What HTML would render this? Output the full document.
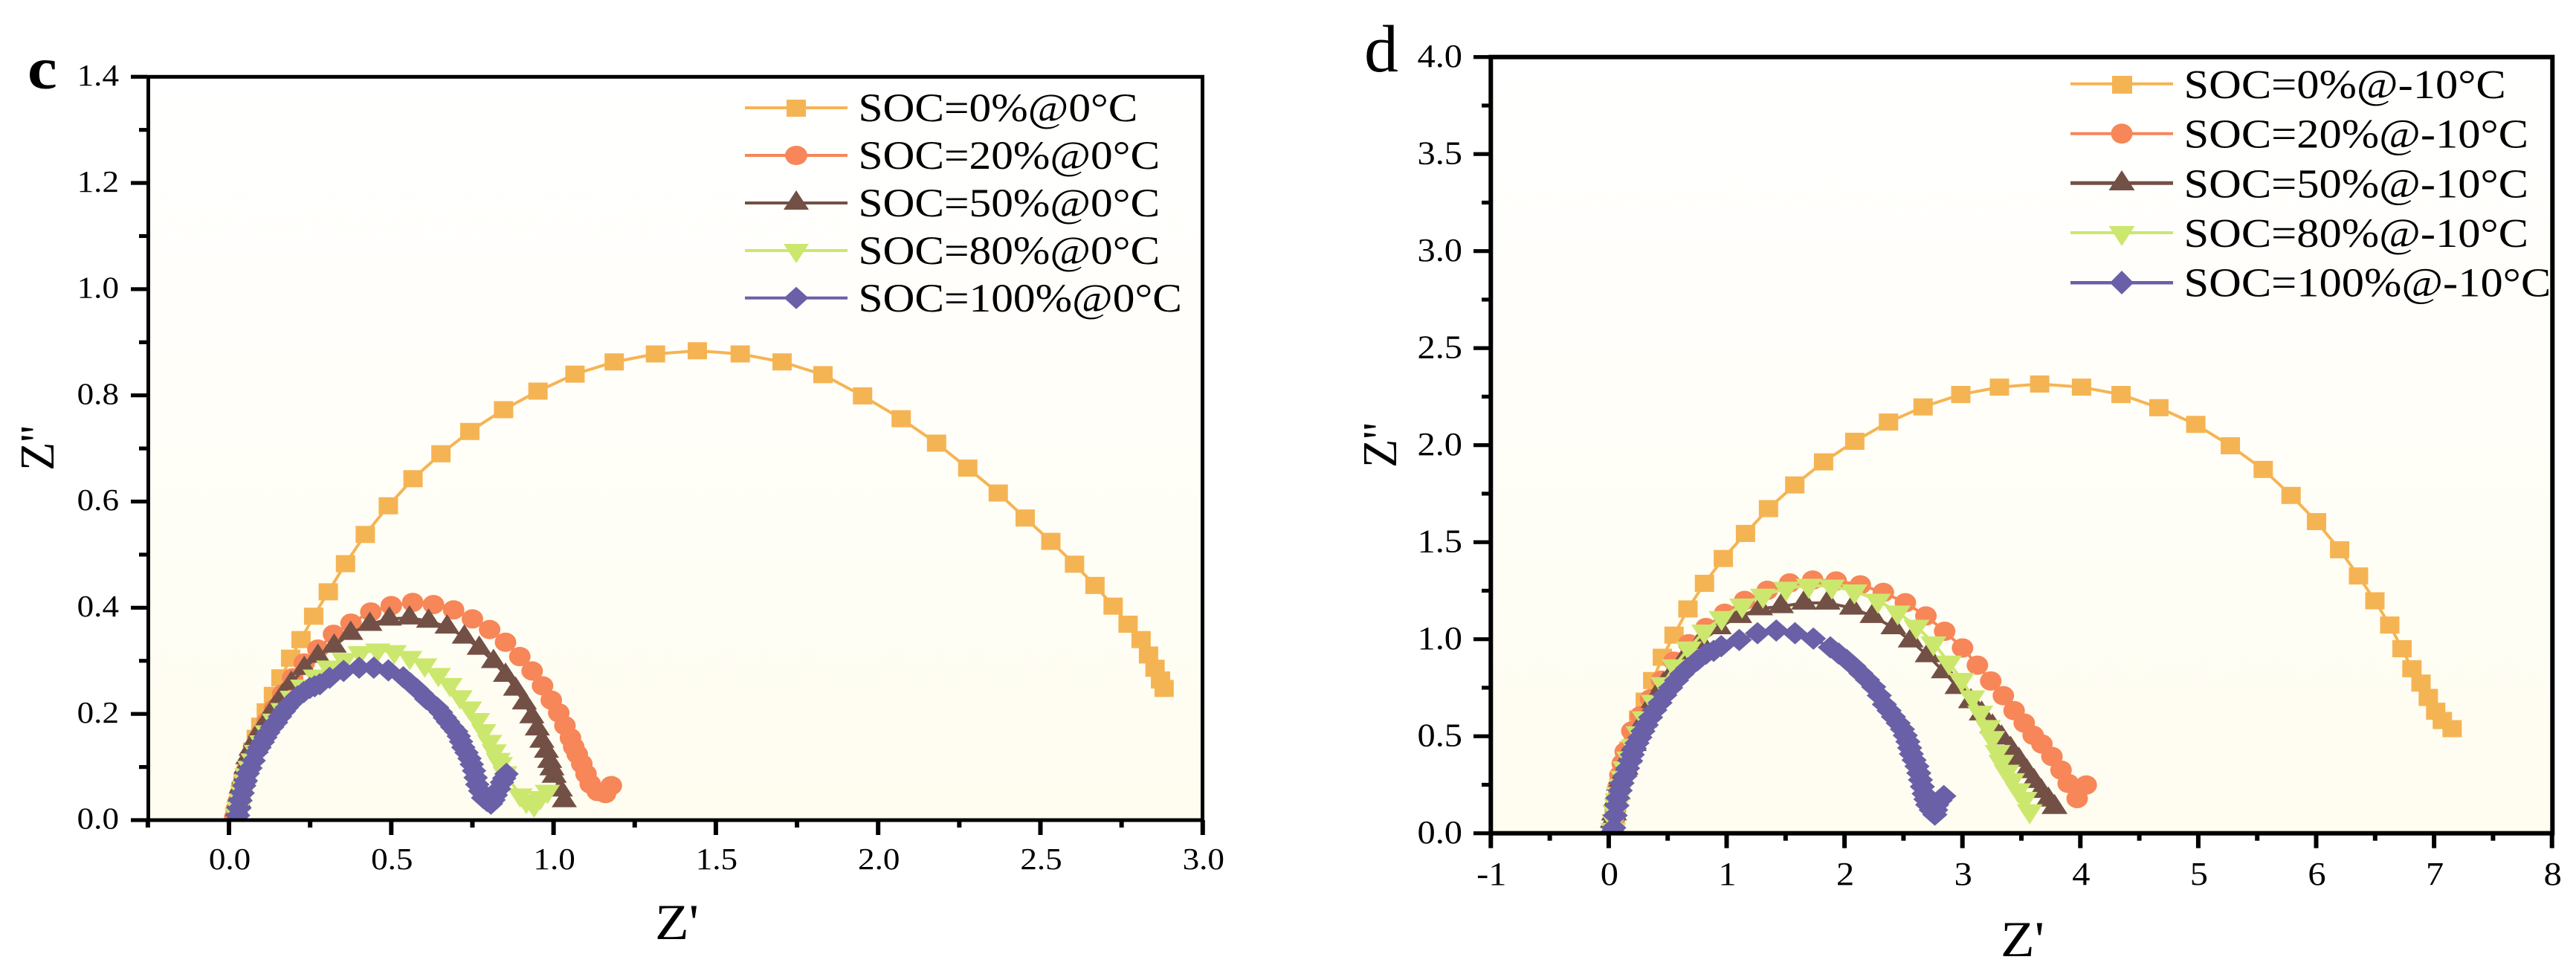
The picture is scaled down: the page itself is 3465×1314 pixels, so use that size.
<!DOCTYPE html>
<html lang="en">
<head>
<meta charset="utf-8">
<title>Nyquist plots at 0°C and -10°C</title>
<style>
html,body{margin:0;padding:0;background:#fff;width:3465px;height:1314px;overflow:hidden}
svg{display:block}
text{font-family:"Liberation Serif","Times New Roman",serif;fill:#000}
</style>
</head>
<body>
<svg id="figure" xmlns="http://www.w3.org/2000/svg" width="3465" height="1314" viewBox="0 0 3465 1314">
  <defs>
    <linearGradient id="plotBg" x1="0" y1="0" x2="0" y2="1">
      <stop offset="0" stop-color="#ffffff"/>
      <stop offset="1" stop-color="#fffdf0"/>
    </linearGradient>
    <clipPath id="clipC"><rect x="199" y="103" width="1420" height="1000"/></clipPath>
    <clipPath id="clipD"><rect x="2005" y="77" width="1428" height="1044"/></clipPath>
  </defs>

  <g id="panelC">
    <rect x="199" y="103" width="1420" height="1000" fill="url(#plotBg)"/>
    <g id="seriesC" clip-path="url(#clipC)"></g>
    <rect x="199.5" y="103.3" width="1418" height="999.7" fill="none" stroke="#000" stroke-width="5"/>
    <g id="ticksC"></g>
    <text transform="translate(37,119) scale(1.12,1)" font-size="80" font-weight="bold">c</text>
    <text transform="translate(881,1263) scale(1.1,1)" font-size="68">Z'</text>
    <text transform="translate(72,633) rotate(-90) scale(0.95,1)" font-size="66">Z''</text>
    <g>
      <g>
        <line x1="1002" x2="1140" y1="145" y2="145" stroke="#f5b453" stroke-width="4"/>
        <rect x="1058" y="134" width="26" height="23" fill="#f5b453"/>
        <text transform="translate(1154.5,163) scale(1.1,1)" font-size="54">SOC=0%@0°C</text>
      </g>
      <g>
        <line x1="1002" x2="1140" y1="209" y2="209" stroke="#f78658" stroke-width="4"/>
        <ellipse cx="1071" cy="209" rx="15" ry="13" fill="#f78658"/>
        <text transform="translate(1154.5,227) scale(1.1,1)" font-size="54">SOC=20%@0°C</text>
      </g>
      <g>
        <line x1="1002" x2="1140" y1="273" y2="273" stroke="#735046" stroke-width="4"/>
        <polygon points="1071,256 1088,282 1054,282" fill="#735046"/>
        <text transform="translate(1154.5,291) scale(1.1,1)" font-size="54">SOC=50%@0°C</text>
      </g>
      <g>
        <line x1="1002" x2="1140" y1="337" y2="337" stroke="#cce76d" stroke-width="4"/>
        <polygon points="1054,328 1088,328 1071,354" fill="#cce76d"/>
        <text transform="translate(1154.5,355) scale(1.1,1)" font-size="54">SOC=80%@0°C</text>
      </g>
      <g>
        <line x1="1002" x2="1140" y1="400.7" y2="400.7" stroke="#6a60a8" stroke-width="4"/>
        <polygon points="1071,385.7 1087.5,400.7 1071,415.7 1054.5,400.7" fill="#6a60a8"/>
        <text transform="translate(1154.5,419) scale(1.1,1)" font-size="54">SOC=100%@0°C</text>
      </g>
    </g>
  </g>

  <g id="panelD">
    <rect x="2005" y="77" width="1428" height="1044" fill="url(#plotBg)"/>
    <g id="seriesD" clip-path="url(#clipD)"></g>
    <rect x="2005.3" y="76.7" width="1428" height="1044" fill="none" stroke="#000" stroke-width="6"/>
    <g id="ticksD"></g>
    <text transform="translate(1835,96) scale(1.02,1)" font-size="90">d</text>
    <text transform="translate(2691,1286) scale(1.1,1)" font-size="68">Z'</text>
    <text transform="translate(1878,629) rotate(-90) scale(0.95,1)" font-size="66">Z''</text>
    <g>
      <g>
        <line x1="2785" x2="2923" y1="112.7" y2="112.7" stroke="#f5b453" stroke-width="4"/>
        <rect x="2841" y="102" width="27" height="24" fill="#f5b453"/>
        <text transform="translate(2937.5,132) scale(1.1,1)" font-size="55">SOC=0%@-10°C</text>
      </g>
      <g>
        <line x1="2785" x2="2923" y1="179.7" y2="179.7" stroke="#f78658" stroke-width="4"/>
        <ellipse cx="2854" cy="179.7" rx="14.5" ry="13.5" fill="#f78658"/>
        <text transform="translate(2937.5,198.7) scale(1.1,1)" font-size="55">SOC=20%@-10°C</text>
      </g>
      <g>
        <line x1="2785" x2="2923" y1="246.3" y2="246.3" stroke="#735046" stroke-width="5"/>
        <polygon points="2854,229 2871.5,256 2836.5,256" fill="#735046"/>
        <text transform="translate(2937.5,265.3) scale(1.1,1)" font-size="55">SOC=50%@-10°C</text>
      </g>
      <g>
        <line x1="2785" x2="2923" y1="313" y2="313" stroke="#cce76d" stroke-width="4"/>
        <polygon points="2836.5,304 2871.5,304 2854,331" fill="#cce76d"/>
        <text transform="translate(2937.5,332) scale(1.1,1)" font-size="55">SOC=80%@-10°C</text>
      </g>
      <g>
        <line x1="2785" x2="2923" y1="380.3" y2="380.3" stroke="#6a60a8" stroke-width="4.5"/>
        <polygon points="2854,364 2870,380.3 2854,396 2838,380.3" fill="#6a60a8"/>
        <text transform="translate(2937.5,398.7) scale(1.1,1)" font-size="55">SOC=100%@-10°C</text>
      </g>
    </g>
  </g>
</svg>

<script>
// ---- tick values and labels ----
const cXTicks = [0, 0.5, 1, 1.5, 2, 2.5, 3];
const cXTickLabels = ['0.0', '0.5', '1.0', '1.5', '2.0', '2.5', '3.0'];
const cXMinorTicks = [-0.25, 0.25, 0.75, 1.25, 1.75, 2.25, 2.75];
const cYTicks = [0, 0.2, 0.4, 0.6, 0.8, 1, 1.2, 1.4];
const cYTickLabels = ['0.0', '0.2', '0.4', '0.6', '0.8', '1.0', '1.2', '1.4'];
const cYMinorTicks = [0.1, 0.3, 0.5, 0.7, 0.9, 1.1, 1.3];

const dXTicks = [-1, 0, 1, 2, 3, 4, 5, 6, 7, 8];
const dXTickLabels = ['-1', '0', '1', '2', '3', '4', '5', '6', '7', '8'];
const dXMinorTicks = [-0.5, 0.5, 1.5, 2.5, 3.5, 4.5, 5.5, 6.5, 7.5];
const dYTicks = [0, 0.5, 1, 1.5, 2, 2.5, 3, 3.5, 4];
const dYTickLabels = ['0.0', '0.5', '1.0', '1.5', '2.0', '2.5', '3.0', '3.5', '4.0'];
const dYMinorTicks = [0.25, 0.75, 1.25, 1.75, 2.25, 2.75, 3.25, 3.75];

// ---- panel c series (0 °C) ----
const cSoc0X = [2.881,2.87,2.853,2.833,2.81,2.77,2.724,2.668,2.605,2.532,2.453,2.37,2.276,2.18,2.071,1.952,1.83,1.704,1.575,1.443,1.314,1.187,1.066,.952,.846,.742,.653,.567,.491,.42,.359,.306,.261,.222,.19,.16,.137,.115,.098,.084,.073,.063,.056,.05,.044,.038,.033,.027,.021];
const cSoc0Y = [.248,.264,.286,.311,.34,.369,.403,.442,.482,.525,.569,.616,.663,.71,.756,.799,.839,.863,.878,.884,.878,.863,.84,.808,.773,.732,.69,.643,.592,.538,.483,.43,.384,.34,.305,.268,.235,.204,.177,.154,.13,.112,.096,.081,.067,.053,.039,.025,.011];
const cSoc20X = [1.178,1.16,1.135,1.113,1.1,1.087,1.073,1.062,1.052,1.035,1.016,.993,.966,.934,.896,.852,.803,.75,.692,.63,.566,.5,.437,.376,.322,.274,.232,.196,.166,.14,.118,.101,.087,.074,.064,.055,.047,.04,.034,.028,.022,.018];
const cSoc20Y = [.065,.05,.054,.068,.087,.106,.124,.138,.155,.178,.202,.226,.253,.281,.308,.335,.359,.379,.396,.406,.41,.404,.392,.371,.35,.322,.296,.268,.238,.21,.186,.165,.147,.13,.112,.095,.08,.065,.05,.035,.02,.006];
const cSoc50X = [1.033,1.021,1.002,.995,.988,.978,.964,.95,.933,.91,.883,.852,.815,.771,.725,.672,.615,.556,.494,.434,.375,.324,.274,.232,.192,.165,.138,.115,.096,.081,.068,.058,.052,.046,.038,.034,.031,.026,.022];
const cSoc50Y = [.037,.057,.083,.097,.111,.13,.149,.172,.195,.221,.247,.273,.299,.324,.345,.364,.375,.381,.379,.369,.352,.328,.309,.286,.258,.235,.211,.186,.169,.151,.134,.118,.1,.082,.063,.048,.035,.02,.006];
const cSoc80X = [.981,.959,.94,.916,.897,.85,.836,.829,.817,.803,.785,.766,.741,.712,.681,.645,.603,.557,.509,.458,.404,.355,.307,.266,.227,.195,.166,.14,.118,.101,.084,.074,.064,.055,.051,.046,.042,.036,.03,.025];
const cSoc80Y = [.054,.042,.028,.035,.047,.089,.106,.114,.13,.148,.168,.189,.211,.232,.255,.274,.292,.306,.317,.32,.315,.302,.288,.271,.252,.231,.208,.188,.166,.147,.129,.113,.099,.085,.073,.062,.052,.038,.022,.01];
const cSoc100X = [.855,.848,.841,.832,.822,.815,.807,.795,.783,.774,.765,.76,.755,.748,.741,.732,.722,.715,.708,.7,.688,.675,.665,.653,.641,.625,.608,.594,.579,.558,.537,.491,.446,.401,.353,.31,.28,.264,.249,.23,.211,.2,.188,.178,.169,.157,.145,.133,.121,.112,.104,.094,.085,.076,.066,.058,.052,.047,.042,.035,.031,.028];
const cSoc100Y = [.087,.079,.071,.059,.047,.038,.031,.036,.042,.055,.067,.08,.093,.105,.116,.127,.137,.148,.158,.167,.175,.185,.193,.203,.212,.22,.228,.238,.247,.258,.269,.282,.287,.287,.281,.268,.256,.252,.249,.241,.233,.226,.219,.212,.205,.195,.184,.175,.165,.156,.147,.137,.128,.112,.098,.088,.074,.065,.051,.037,.022,.009];

// ---- panel d series (-10 °C) ----
const dSoc0X = [7.153,7.07,7.014,6.951,6.889,6.812,6.728,6.624,6.498,6.359,6.199,6.003,5.787,5.551,5.272,4.979,4.666,4.345,4.01,3.655,3.314,2.986,2.666,2.373,2.087,1.822,1.578,1.355,1.16,.972,.812,.672,.554,.455,.373,.31,.253,.209,.171,.146,.125,.105,.09,.078,.068,.058,.05,.043,.038];
const dSoc0Y = [.539,.581,.629,.7,.774,.848,.951,1.073,1.198,1.326,1.461,1.606,1.741,1.875,1.997,2.107,2.193,2.261,2.299,2.315,2.299,2.261,2.197,2.119,2.02,1.914,1.795,1.673,1.545,1.416,1.288,1.156,1.021,.907,.787,.681,.589,.506,.429,.378,.33,.285,.24,.2,.16,.12,.08,.04,.01];
const dSoc20X = [4.05,3.973,3.897,3.836,3.759,3.674,3.6,3.524,3.438,3.347,3.24,3.127,3.001,2.849,2.69,2.516,2.329,2.134,1.929,1.73,1.535,1.345,1.153,.984,.825,.679,.553,.448,.354,.27,.196,.14,.115,.095,.08,.068,.056,.046,.038];
const dSoc20Y = [.249,.179,.257,.326,.396,.46,.505,.568,.632,.709,.785,.866,.955,1.041,1.12,1.188,1.241,1.28,1.3,1.305,1.29,1.252,1.2,1.134,1.06,.977,.887,.789,.693,.606,.527,.42,.36,.3,.24,.18,.12,.06,.015];
const dSoc50X = [3.781,3.729,3.668,3.607,3.545,3.479,3.408,3.332,3.255,3.163,3.072,2.958,2.842,2.705,2.561,2.415,2.237,2.063,1.856,1.657,1.461,1.284,1.107,.933,.779,.642,.526,.465,.38,.3,.213,.171,.143,.108,.087,.076,.06,.045,.034,.03];
const dSoc50Y = [.134,.172,.217,.268,.319,.377,.434,.492,.549,.616,.679,.752,.833,.916,.992,1.06,1.118,1.161,1.187,1.187,1.169,1.158,1.118,1.06,.984,.9,.811,.765,.68,.58,.458,.395,.337,.29,.254,.209,.171,.101,.063,.02];
const dSoc80X = [3.57,3.527,3.472,3.42,3.375,3.329,3.298,3.252,3.216,3.151,3.084,2.992,2.885,2.754,2.61,2.451,2.283,2.084,1.892,1.696,1.504,1.308,1.131,.957,.81,.679,.558,.463,.383,.305,.253,.211,.173,.141,.123,.106,.085,.074,.068,.057,.047,.038];
const dSoc80Y = [.115,.179,.223,.275,.319,.37,.421,.492,.549,.623,.702,.792,.881,.98,1.066,1.139,1.2,1.248,1.273,1.277,1.262,1.226,1.175,1.111,1.041,.954,.862,.77,.679,.594,.517,.45,.387,.336,.287,.246,.204,.172,.144,.109,.064,.019];
const dSoc100X = [2.842,2.81,2.781,2.773,2.766,2.735,2.705,2.69,2.675,2.66,2.644,2.63,2.614,2.59,2.567,2.552,2.537,2.515,2.491,2.455,2.415,2.378,2.338,2.295,2.247,2.195,2.139,2.08,2.017,1.95,1.88,1.736,1.58,1.421,1.262,1.107,.954,.89,.825,.75,.669,.62,.575,.525,.476,.435,.391,.355,.318,.29,.265,.24,.217,.2,.186,.16,.139,.112,.097,.076,.07,.055,.043,.03];
const dSoc100Y = [.192,.17,.147,.12,.096,.12,.147,.175,.204,.24,.275,.31,.345,.377,.409,.44,.472,.504,.536,.568,.6,.632,.664,.71,.754,.79,.824,.86,.894,.926,.958,1.003,1.031,1.045,1.031,.996,.964,.94,.925,.89,.85,.82,.788,.75,.712,.672,.635,.597,.558,.526,.494,.465,.437,.405,.373,.335,.296,.258,.22,.182,.143,.092,.028,.005];

// ---- axis functions ----
function cX(v) { return 308 + v * 436.6; }
function cY(v) { return 1103 - v * 714.1; }
function dX(v) { return 2163.9 + v * 158.6; }
function dY(v) { return 1120.7 - v * 261; }

const SVGNS = 'http://www.w3.org/2000/svg';

function make(parent, tag, attrs) {
  const el = document.createElementNS(SVGNS, tag);
  for (const k in attrs) el.setAttribute(k, attrs[k]);
  parent.appendChild(el);
  return el;
}

function marker(parent, type, x, y, color, s) {
  if (type === 'square') {
    return make(parent, 'rect', { x: x - s.sw / 2, y: y - s.sh / 2, width: s.sw, height: s.sh, fill: color });
  }
  if (type === 'circle') {
    return make(parent, 'ellipse', { cx: x, cy: y, rx: s.cw / 2, ry: s.ch / 2, fill: color });
  }
  if (type === 'up') {
    return make(parent, 'polygon', { points: x + ',' + (y - s.ta) + ' ' + (x + s.tw / 2) + ',' + (y + s.tb) + ' ' + (x - s.tw / 2) + ',' + (y + s.tb), fill: color });
  }
  if (type === 'down') {
    return make(parent, 'polygon', { points: (x - s.tw / 2) + ',' + (y - s.tb) + ' ' + (x + s.tw / 2) + ',' + (y - s.tb) + ' ' + x + ',' + (y + s.ta), fill: color });
  }
  return make(parent, 'polygon', { points: x + ',' + (y - s.dh / 2) + ' ' + (x + s.dw / 2) + ',' + y + ' ' + x + ',' + (y + s.dh / 2) + ' ' + (x - s.dw / 2) + ',' + y, fill: color });
}

function drawSeries(parent, name, xs, ys, fx, fy, color, type, s) {
  const g = make(parent, 'g', {});
  
  
  const pts = xs.map(function (v, i) { return fx(v) + ',' + fy(ys[i]); }).join(' ');
  const line = make(g, 'polyline', { points: pts, fill: 'none', stroke: color, 'stroke-width': 4, 'stroke-linejoin': 'round' });
  
  
  xs.forEach(function (v, i) {
    const m = marker(g, type, fx(v), fy(ys[i]), color, s);
    
    
  });
}

function drawXAxis(parent, panel, ticks, labels, minors, fx, axisY, baseline, fs, sx) {
  ticks.forEach(function (v, i) {
    const t = make(parent, 'rect', { x: fx(v) - 3, y: axisY, width: 6, height: 20, fill: '#000' });
    
    
    const lab = make(parent, 'text', { transform: 'translate(' + (fx(v) + 1) + ',' + baseline + ') scale(' + sx + ',1)', 'font-size': fs, 'text-anchor': 'middle' });
    lab.textContent = labels[i];
    
    
  });
  minors.forEach(function (v) {
    const t = make(parent, 'rect', { x: fx(v) - 3, y: axisY, width: 6, height: 10, fill: '#000' });
    
    
  });
}

function drawYAxis(parent, panel, ticks, labels, minors, fy, axisX, labelRight, dy, fs, sx) {
  ticks.forEach(function (v, i) {
    const t = make(parent, 'rect', { x: axisX - 22, y: fy(v) - 2.6, width: 22, height: 5.2, fill: '#000' });
    
    
    const lab = make(parent, 'text', { transform: 'translate(' + labelRight + ',' + (fy(v) + dy) + ') scale(' + sx + ',1)', 'font-size': fs, 'text-anchor': 'end' });
    lab.textContent = labels[i];
    
    
  });
  minors.forEach(function (v) {
    const t = make(parent, 'rect', { x: axisX - 11, y: fy(v) - 2.6, width: 11, height: 5.2, fill: '#000' });
    
    
  });
}

const sizeC = { sw: 26, sh: 23, cw: 29, ch: 26, tw: 34, ta: 17, tb: 9, dw: 33, dh: 30 };
const sizeD = { sw: 26, sh: 23, cw: 29, ch: 26, tw: 35, ta: 18, tb: 9, dw: 34, dh: 30 };

const seriesC = document.getElementById('seriesC');
drawSeries(seriesC, 'series-c-soc-0', cSoc0X, cSoc0Y, cX, cY, '#f5b453', 'square', sizeC);
drawSeries(seriesC, 'series-c-soc-20', cSoc20X, cSoc20Y, cX, cY, '#f78658', 'circle', sizeC);
drawSeries(seriesC, 'series-c-soc-50', cSoc50X, cSoc50Y, cX, cY, '#735046', 'up', sizeC);
drawSeries(seriesC, 'series-c-soc-80', cSoc80X, cSoc80Y, cX, cY, '#cce76d', 'down', sizeC);
drawSeries(seriesC, 'series-c-soc-100', cSoc100X, cSoc100Y, cX, cY, '#6a60a8', 'diamond', sizeC);

const seriesD = document.getElementById('seriesD');
drawSeries(seriesD, 'series-d-soc-0', dSoc0X, dSoc0Y, dX, dY, '#f5b453', 'square', sizeD);
drawSeries(seriesD, 'series-d-soc-20', dSoc20X, dSoc20Y, dX, dY, '#f78658', 'circle', sizeD);
drawSeries(seriesD, 'series-d-soc-50', dSoc50X, dSoc50Y, dX, dY, '#735046', 'up', sizeD);
drawSeries(seriesD, 'series-d-soc-80', dSoc80X, dSoc80Y, dX, dY, '#cce76d', 'down', sizeD);
drawSeries(seriesD, 'series-d-soc-100', dSoc100X, dSoc100Y, dX, dY, '#6a60a8', 'diamond', sizeD);

const ticksC = document.getElementById('ticksC');
drawXAxis(ticksC, 'panel-c', cXTicks, cXTickLabels, cXMinorTicks, cX, 1103, 1169, 41, 1.1);
drawYAxis(ticksC, 'panel-c', cYTicks, cYTickLabels, cYMinorTicks, cY, 198, 160, 11.7, 41, 1.1);

const ticksD = document.getElementById('ticksD');
drawXAxis(ticksD, 'panel-d', dXTicks, dXTickLabels, dXMinorTicks, dX, 1120.7, 1190, 44, 1.1);
drawYAxis(ticksD, 'panel-d', dYTicks, dYTickLabels, dYMinorTicks, dY, 2004, 1967, 13.3, 44, 1.1);
</script>
</body>
</html>
